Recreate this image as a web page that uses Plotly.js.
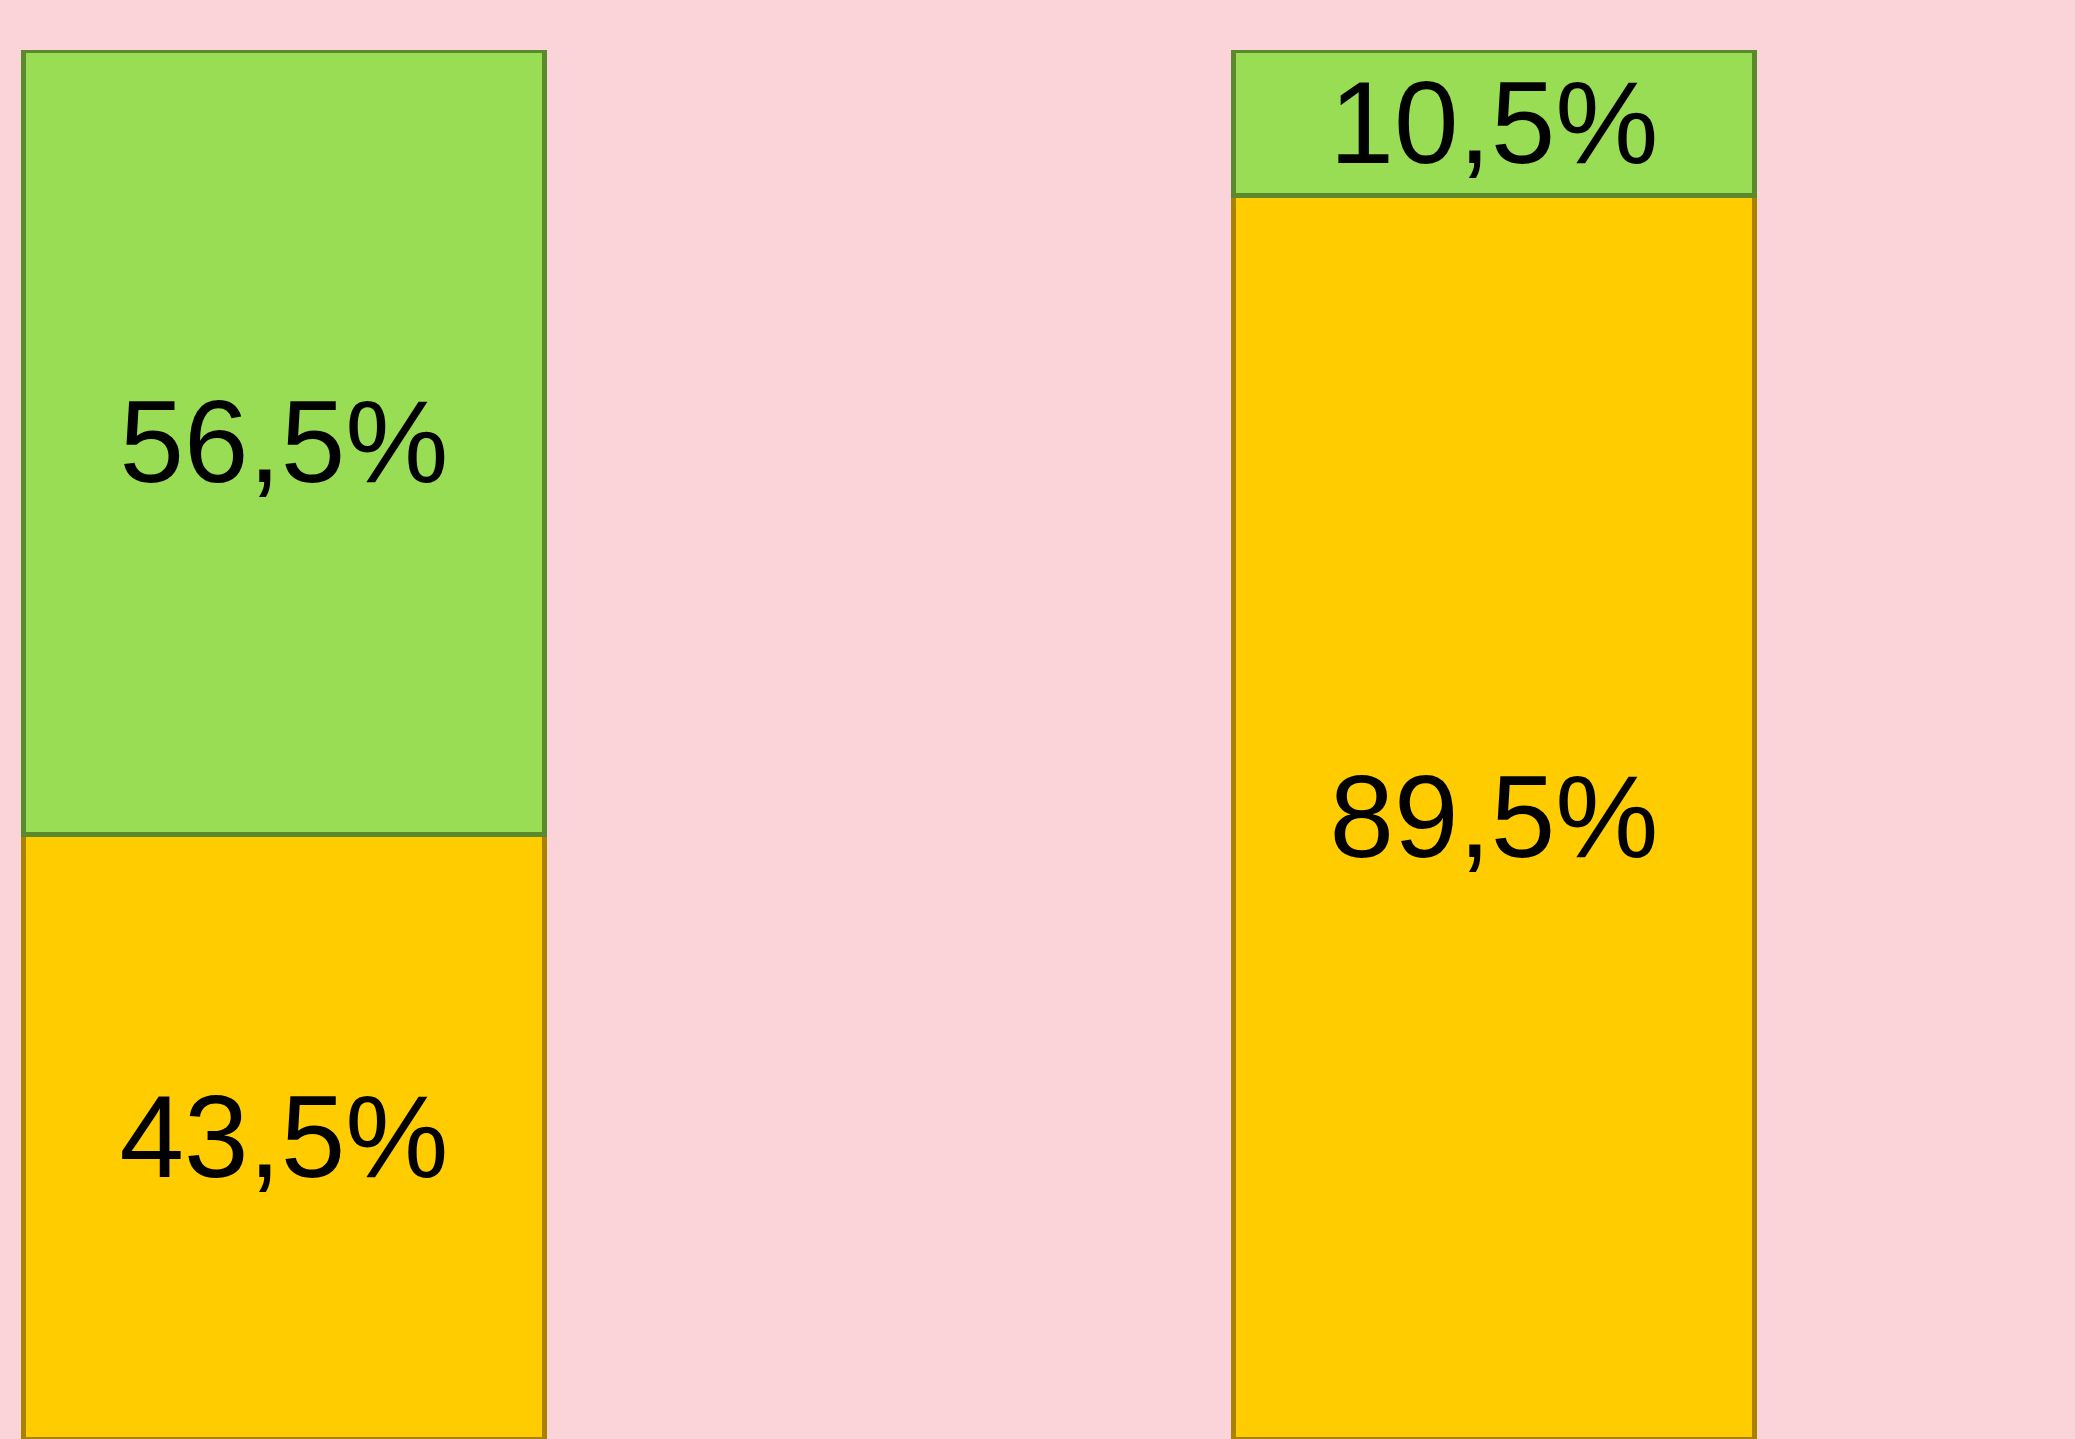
<!DOCTYPE html>
<html>
<head>
<meta charset="utf-8">
<script src="https://cdn.plot.ly/plotly-3.0.1.min.js"></script>
<style>html,body{margin:0;padding:0;background:#FAD4D8;}</style>
</head>
<body>
<div id="chart" style="width:2075px;height:1439px;"></div>
<script>
const categories = ["Catégorie 1", "Catégorie 2"];
const seriesBottom = [43.5, 89.5];
const seriesTop = [56.5, 10.5];

const common = {
  type: 'bar',
  x: categories,
  width: 0.43,
  textposition: 'inside',
  insidetextanchor: 'middle',
  textangle: 0,
  constraintext: 'none',
  texttemplate: '%{y:.1f}%',
  textfont: {family: 'Liberation Sans, Arial, sans-serif', size: 116, color: '#000000'},
  hoverinfo: 'skip',
  showlegend: false
};

const traces = [
  Object.assign({}, common, {
    name: 'Série 1',
    y: seriesBottom,
    marker: {color: '#FFCC00', line: {color: '#A88200', width: 5}}
  }),
  Object.assign({}, common, {
    name: 'Série 2',
    y: seriesTop,
    marker: {color: '#99DD55', line: {color: '#5A8A2C', width: 5}}
  })
];

const layout = {
  width: 2075,
  height: 1439,
  barmode: 'stack',
  separators: ',.',
  paper_bgcolor: '#FAD4D8',
  plot_bgcolor: '#FAD4D8',
  margin: {l: 0, r: 0, t: 50, b: 0, pad: 0},
  xaxis: {
    type: 'category',
    range: [-0.2347, 1.4802],
    visible: false,
    fixedrange: true
  },
  yaxis: {
    range: [0, 100],
    visible: false,
    fixedrange: true
  }
};

Plotly.newPlot('chart', traces, layout, {displayModeBar: false, staticPlot: true});
</script>
</body>
</html>
